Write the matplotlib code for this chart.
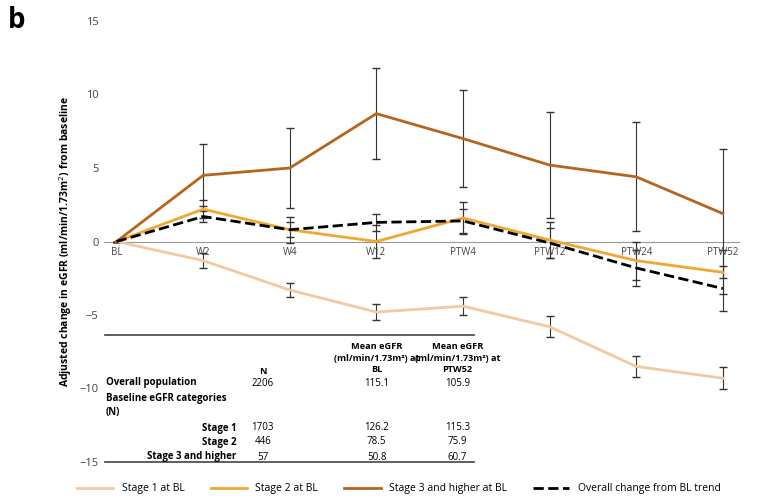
import matplotlib.pyplot as plt
import numpy as np

plt.rcParams['font.family'] = ['Open Sans', 'DejaVu Sans']

timepoints = ['BL', 'W2', 'W4', 'W12', 'PTW4', 'PTW12', 'PTW24', 'PTW52']
stage1 = [0, -1.3, -3.3, -4.8, -4.4, -5.8, -8.5, -9.3]
stage1_err = [0, 0.5, 0.5, 0.55, 0.6, 0.7, 0.7, 0.75]
stage2 = [0, 2.2, 0.8, 0.0, 1.6, 0.1, -1.3, -2.1]
stage2_err = [0, 0.6, 0.9, 1.1, 1.1, 1.2, 1.3, 1.5]
stage3 = [0, 4.5, 5.0, 8.7, 7.0, 5.2, 4.4, 1.9]
stage3_err = [0, 2.1, 2.7, 3.1, 3.3, 3.6, 3.7, 4.4]
overall = [0, 1.7, 0.8, 1.3, 1.4, -0.1, -1.8, -3.2]
overall_err = [0, 0.4, 0.5, 0.6, 0.8, 1.0, 1.2, 1.5]

table_rows = [('Overall population', '2206', '115.1', '105.9'),
              ('Baseline eGFR categories', '', '', ''),
              ('(N)', '', '', ''),
              ('Stage 1', '1703', '126.2', '115.3'),
              ('Stage 2', '446', '78.5', '75.9'),
              ('Stage 3 and higher', '57', '50.8', '60.7')]

fig = plt.figure(figsize=(7.67, 5.0), dpi=100)
ax = fig.add_axes([0.135, 0.076, 0.83, 0.882])
x = np.arange(len(timepoints))

ekw = dict(lw=2, ecolor='#333333', elinewidth=0.8, capsize=3)
ax.errorbar(x, stage1, yerr=stage1_err, color='#f5c9a0', label='Stage 1 at BL', **ekw)
ax.errorbar(x, stage2, yerr=stage2_err, color='#f0a830', label='Stage 2 at BL', **ekw)
ax.errorbar(x, stage3, yerr=stage3_err, color='#b5651d', label='Stage 3 and higher at BL', **ekw)
ax.errorbar(x, overall, yerr=overall_err, color='black', ls='--', label='Overall change from BL trend', **ekw)

ax.axhline(0, color='#999999', lw=0.8, zorder=0)
ax.set_xlim(-0.15, 7.2)
ax.set_ylim(-15, 15)
ax.set_yticks(range(-15, 16, 5))
ax.set_xticks([])
for i, t in enumerate(timepoints):
    ax.text(i, -0.75, t, ha='center', va='center', fontsize=7, color='#444444')
for s in ax.spines.values():
    s.set_visible(False)
ax.tick_params(axis='y', length=0, labelsize=8, colors='#444444')
ax.set_ylabel('Adjusted change in eGFR (ml/min/1.73m$^2$) from baseline', fontsize=7.5, fontweight='bold')

# summary table drawn inside the axes (positions given in figure pixels)
ty = lambda p: 15 - (p - 21) / 14.7
tx = lambda p: (p - 105) / 88.9
for py in (335, 462):
    ax.plot([tx(93), tx(472)], [ty(py), ty(py)], color='#444444', lw=1.2, clip_on=False)
cols = [255, 372, 455]
hdr_kw = dict(fontsize=6.6, fontweight='bold', ha='center', va='center')
ax.text(tx(cols[0]), ty(371), 'N', **hdr_kw)
ax.text(tx(cols[1]), ty(358), 'Mean eGFR\n(ml/min/1.73m²) at\nBL', linespacing=1.3, **hdr_kw)
ax.text(tx(cols[2]), ty(358), 'Mean eGFR\n(ml/min/1.73m²) at\nPTW52', linespacing=1.3, **hdr_kw)
row_y = [383, 398, 413, 428, 442, 457]
for (lab, n, bl, ptw), py in zip(table_rows, row_y):
    if lab.startswith('Stage'):
        ax.text(tx(228), ty(py), lab, fontsize=7, fontweight='bold', ha='right', va='center')
    else:
        ax.text(tx(94), ty(py), lab, fontsize=7, fontweight='bold', ha='left', va='center')
    ax.text(tx(cols[0]), ty(py), n, fontsize=7, ha='center', va='center')
    ax.text(tx(cols[1]), ty(py), bl, fontsize=7, ha='center', va='center')
    ax.text(tx(cols[2]), ty(py), ptw, fontsize=7, ha='center', va='center')

handles, labels = ax.get_legend_handles_labels()
handles = [h[0] for h in handles]
fig.legend(handles, labels, loc='center', ncol=4, frameon=False, fontsize=7.5,
           bbox_to_anchor=(0.52, 0.022), handlelength=3.5, columnspacing=2.5)
fig.text(0.01, 0.945, 'b', fontsize=20, fontweight='bold')

fig.savefig('out.png', dpi=100)
